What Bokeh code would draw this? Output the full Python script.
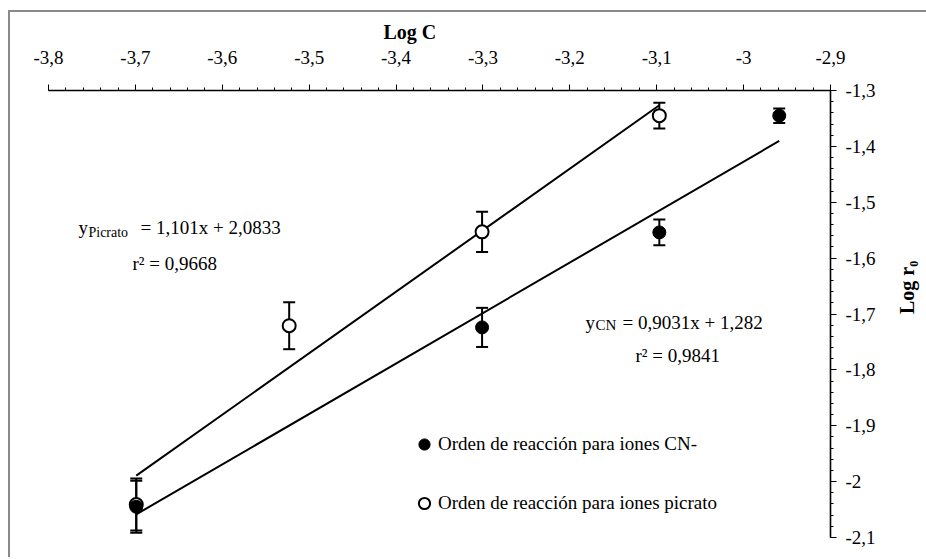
import numpy as np
from bokeh.plotting import figure
from bokeh.layouts import column
from bokeh.models import (ColumnDataSource, Whisker, TeeHead, FixedTicker, Title,
                          CustomJSTickFormatter, Range1d, Label, Legend, LegendItem)
from bokeh.embed import file_html
from bokeh.resources import INLINE

# ---------------- data ----------------
logc_cn = [-3.699, -3.301, -3.097, -2.959]
logr_cn = [-2.045, -1.724, -1.554, -1.345]
err_cn = [0.0465, 0.035, 0.023, 0.013]

logc_pic = [-3.699, -3.523, -3.301, -3.097]
logr_pic = [-2.041, -1.721, -1.553, -1.345]
err_pic = [0.0465, 0.042, 0.036, 0.023]

slope_pic, intercept_pic = 1.101, 2.0833
slope_cn, intercept_cn = 0.9031, 1.282

x_tick_vals = [-3.8, -3.7, -3.6, -3.5, -3.4, -3.3, -3.2, -3.1, -3.0, -2.9]
x_tick_labels = ["-3,8", "-3,7", "-3,6", "-3,5", "-3,4", "-3,3", "-3,2", "-3,1", "-3", "-2,9"]
y_tick_vals = [-2.1, -2.0, -1.9, -1.8, -1.7, -1.6, -1.5, -1.4, -1.3]
y_tick_labels = ["-2,1", "-2", "-1,9", "-1,8", "-1,7", "-1,6", "-1,5", "-1,4", "-1,3"]

x_title = "Log C"
y_title = "Log r\u2080"
legend_cn = "Orden de reacción para iones CN-"
legend_pic = "Orden de reacción para iones picrato"
eq_pic = ["y", "Picrato", "= 1,101x + 2,0833", "r² = 0,9668"]
eq_cn = ["y", "CN", "= 0,9031x + 1,282", "r² = 0,9841"]

FONT = "Liberation Serif"
FS = "19px"

# ---------------- figure ----------------
p = figure(frame_width=782, frame_height=447,
           x_range=Range1d(-3.8, -2.9), y_range=Range1d(-2.1, -1.3),
           x_axis_location="above", y_axis_location="right",
           output_backend="svg", toolbar_location=None,
           min_border_left=38, min_border_top=78, min_border_right=96, min_border_bottom=20)
p.xgrid.visible = False
p.ygrid.visible = False
p.outline_line_color = None
p.background_fill_color = "white"
p.border_fill_color = "white"

fmt_code = """
for (let i = 0; i < vals.length; i++) {
  if (Math.abs(vals[i] - tick) < 1e-6) return labels[i];
}
return '';
"""
x_minor = list(np.round(np.arange(-3.8, -2.9 + 1e-9, 0.02), 2))
y_minor = list(np.round(np.arange(-2.1, -1.3 + 1e-9, 0.02), 2))

xa = p.xaxis[0]
xa.ticker = FixedTicker(ticks=x_tick_vals, minor_ticks=x_minor)
xa.formatter = CustomJSTickFormatter(args=dict(vals=x_tick_vals, labels=x_tick_labels), code=fmt_code)
ya = p.yaxis[0]
ya.ticker = FixedTicker(ticks=y_tick_vals, minor_ticks=y_minor)
ya.formatter = CustomJSTickFormatter(args=dict(vals=y_tick_vals, labels=y_tick_labels), code=fmt_code)
ya.axis_label = y_title

for ax in (xa, ya):
    ax.axis_line_color = "black"
    ax.axis_line_width = 1.6
    ax.major_tick_line_color = "black"
    ax.minor_tick_line_color = "black"
    ax.major_tick_in = 0
    ax.major_tick_out = 6
    ax.minor_tick_in = 0
    ax.minor_tick_out = 3
    ax.major_label_text_font = FONT
    ax.major_label_text_font_size = FS
    ax.major_label_text_color = "black"
    ax.axis_label_text_font = FONT
    ax.axis_label_text_font_size = "20px"
    ax.axis_label_text_font_style = "bold"
    ax.axis_label_text_color = "black"

xa.major_label_standoff = 21
ya.major_label_standoff = 9
ya.axis_label_standoff = 28
ya.axis_label_orientation = np.pi / 2

# x-axis title, above the tick labels and slightly left of centre as in the original
p.add_layout(Title(text=x_title, align="left", offset=335, text_font=FONT,
                   text_font_size="20px", text_font_style="bold", text_color="black",
                   standoff=6, vertical_align="top"), "above")

# ---------------- fit lines ----------------
xp = np.array([min(logc_pic), max(logc_pic)])
xc = np.array([min(logc_cn), max(logc_cn)])
p.line(xp, slope_pic * xp + intercept_pic, line_color="black", line_width=2)
p.line(xc, slope_cn * xc + intercept_cn, line_color="black", line_width=2)

# ---------------- error bars & points ----------------
src_pic = ColumnDataSource(dict(x=logc_pic, y=logr_pic,
                                lo=[v - e for v, e in zip(logr_pic, err_pic)],
                                hi=[v + e for v, e in zip(logr_pic, err_pic)]))
src_cn = ColumnDataSource(dict(x=logc_cn, y=logr_cn,
                               lo=[v - e for v, e in zip(logr_cn, err_cn)],
                               hi=[v + e for v, e in zip(logr_cn, err_cn)]))
for src in (src_pic, src_cn):
    p.add_layout(Whisker(source=src, base="x", upper="hi", lower="lo", dimension="height",
                         line_color="black", line_width=2,
                         upper_head=TeeHead(size=12, line_width=2, line_color="black"),
                         lower_head=TeeHead(size=12, line_width=2, line_color="black")))

r_pic = p.scatter("x", "y", source=src_pic, size=13, marker="circle",
                  fill_color="white", line_color="black", line_width=2)
r_cn = p.scatter("x", "y", source=src_cn, size=13, marker="circle",
                 fill_color="black", line_color="black", line_width=1)

# ---------------- legend ----------------
leg = Legend(items=[LegendItem(label=legend_cn, renderers=[r_cn]),
                    LegendItem(label=legend_pic, renderers=[r_pic])],
             location=(362, 20), orientation="vertical",
             glyph_width=28, glyph_height=28, label_height=28, spacing=31,
             label_standoff=0, padding=0, margin=0,
             border_line_color=None, background_fill_alpha=0,
             label_text_font=FONT, label_text_font_size=FS, label_text_color="black")
p.add_layout(leg, "center")

# ---------------- equations ----------------
def lab(x, y, text, size=FS):
    p.add_layout(Label(x=x, y=y, text=text, text_font=FONT, text_font_size=size,
                       text_color="black", text_align="left", text_baseline="alphabetic"))

lab(-3.7655, -1.5452, eq_pic[0])
lab(-3.7540, -1.5540, eq_pic[1], "14px")
lab(-3.6941, -1.5452, eq_pic[2])
lab(-3.7033, -1.6096, eq_pic[3])

lab(-3.1820, -1.7152, eq_cn[0])
lab(-3.1705, -1.7188, eq_cn[1], "15px")
lab(-3.1394, -1.7152, eq_cn[2])
lab(-3.1244, -1.7743, eq_cn[3])

layout = column(p, styles={"margin-left": "8px", "margin-top": "10px",
                           "border-left": "2px solid #8a8a8a",
                           "border-top": "2px solid #8a8a8a"})

open("out.html", "w").write(file_html(layout, INLINE))
